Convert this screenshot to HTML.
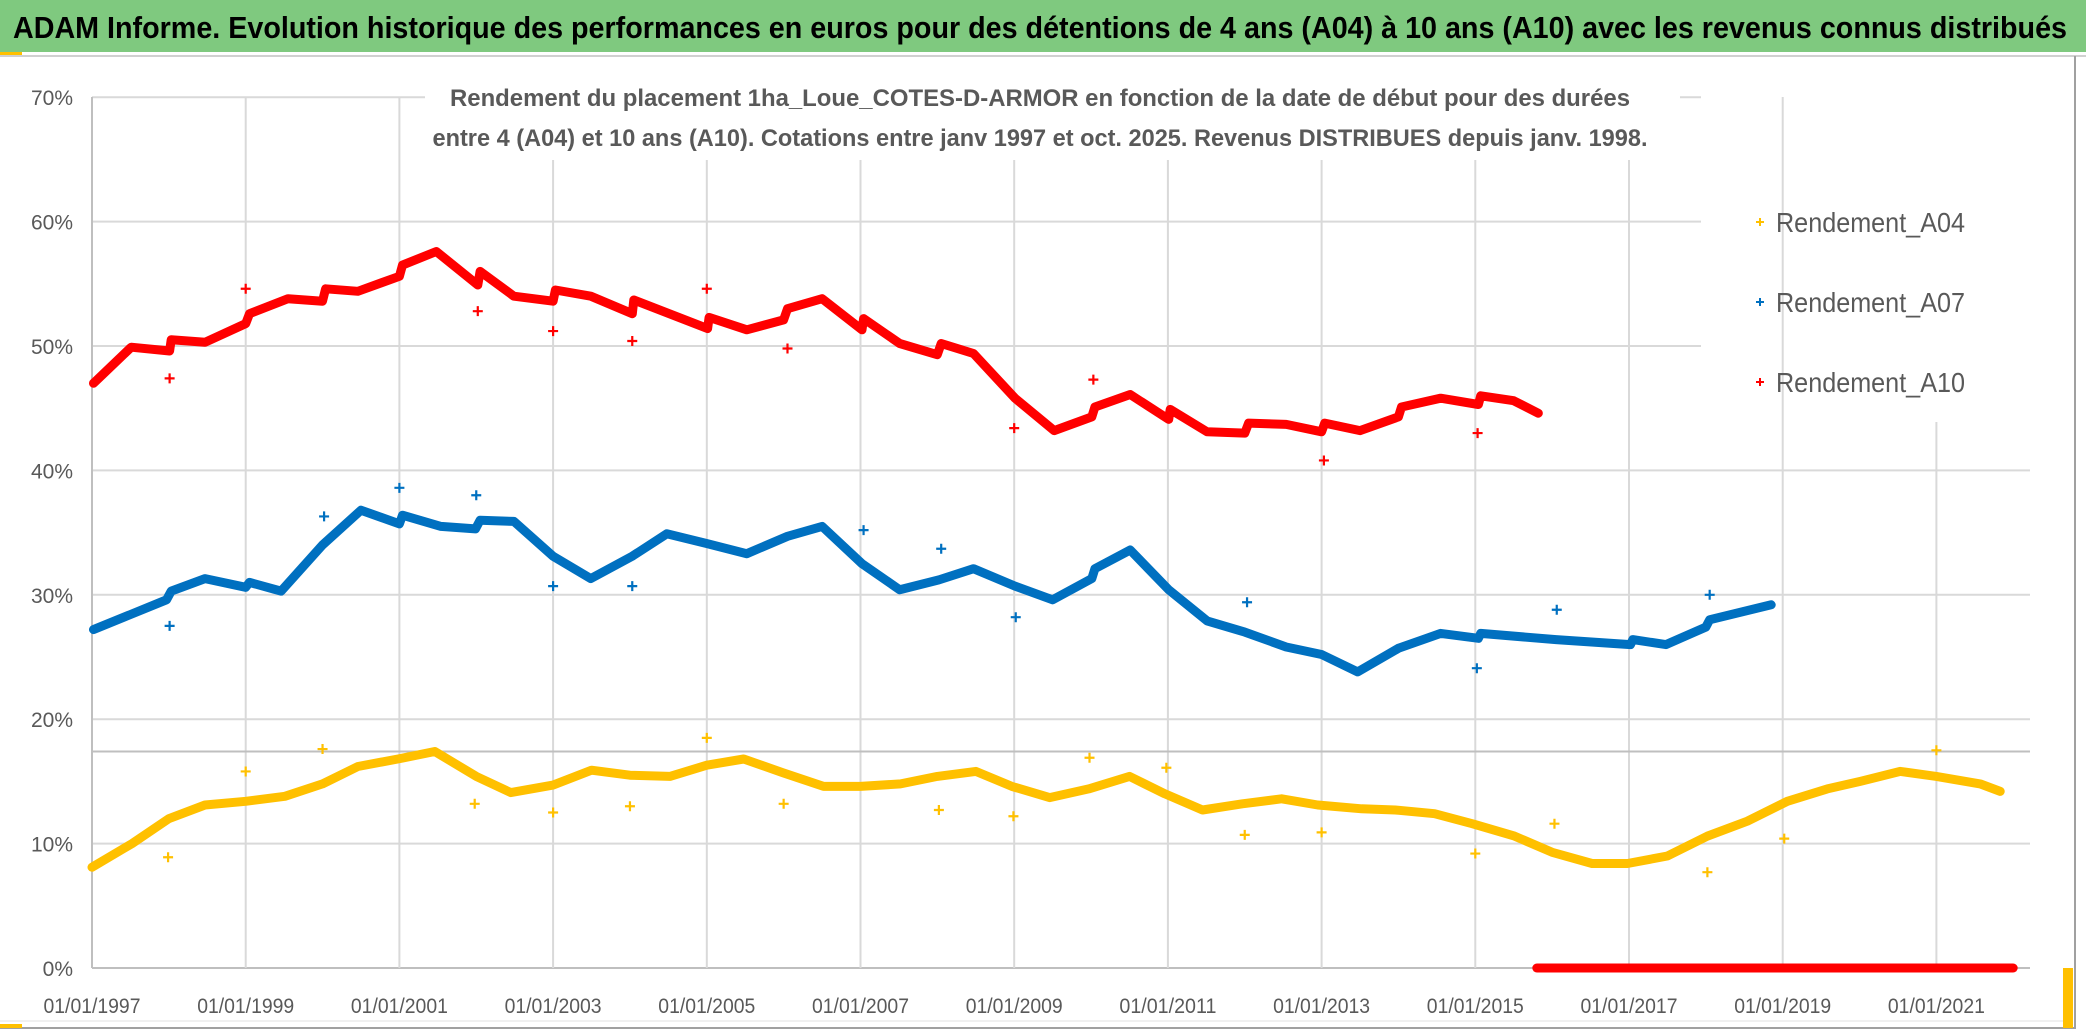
<!DOCTYPE html>
<html><head><meta charset="utf-8"><style>
html,body{margin:0;padding:0;background:#fff;}
svg{display:block;font-family:"Liberation Sans",sans-serif;}
</style></head><body>
<svg id="chart" width="2086" height="1032" viewBox="0 0 2086 1032">
<rect x="0" y="0" width="2086" height="52" fill="#7fc97f"/>
<text x="13" y="38" font-size="31" font-weight="bold" fill="#000" textLength="2054" lengthAdjust="spacingAndGlyphs">ADAM Informe. Evolution historique des performances en euros pour des détentions de 4 ans (A04) à 10 ans (A10) avec les revenus connus distribués</text>
<rect x="0" y="52" width="22" height="3" fill="#ffc000"/>
<line x1="0" y1="56" x2="2086" y2="56" stroke="#d0d0d0" stroke-width="2"/>
<line x1="2075" y1="56" x2="2075" y2="1028" stroke="#a0a0a0" stroke-width="2"/>
<line x1="0" y1="1028" x2="2076" y2="1028" stroke="#a0a0a0" stroke-width="2"/>
<line x1="0" y1="1021" x2="2070" y2="1021" stroke="#e0e0e0" stroke-width="1"/>
<rect x="0" y="1024" width="22" height="4" fill="#ffc000"/>
<rect x="2063" y="968" width="10" height="60" fill="#ffc000"/>
<g id="grid"></g>
<g id="axes"></g>
<rect x="425" y="78" width="1255" height="82" fill="#fff"/>
<text x="1040" y="106" text-anchor="middle" font-size="24" font-weight="bold" fill="#595959" textLength="1180" lengthAdjust="spacingAndGlyphs">Rendement du placement 1ha_Loue_COTES-D-ARMOR en fonction de la date de début pour des durées</text>
<text x="1040" y="146" text-anchor="middle" font-size="24" font-weight="bold" fill="#595959" textLength="1215" lengthAdjust="spacingAndGlyphs">entre 4 (A04) et 10 ans (A10). Cotations entre janv 1997 et oct. 2025. Revenus DISTRIBUES depuis janv. 1998.</text>
<g id="series"></g>
<g id="legend"></g>
</svg>
<script>
// ---- data ----
const xTickYears = [1997,1999,2001,2003,2005,2007,2009,2011,2013,2015,2017,2019,2021];
const xTickLabels = ["01/01/1997","01/01/1999","01/01/2001","01/01/2003","01/01/2005","01/01/2007","01/01/2009","01/01/2011","01/01/2013","01/01/2015","01/01/2017","01/01/2019","01/01/2021"];
const yTicks = [0,10,20,30,40,50,60,70];
const yTickLabels = ["0%","10%","20%","30%","40%","50%","60%","70%"];
const refLine = [17.4];

const a10Years = [1997.02,1997.51,1998.01,1998.03,1998.47,1999.0,1999.05,1999.55,2000.0,2000.04,2000.46,2001.0,2001.04,2001.48,2002.02,2002.05,2002.49,2003.0,2003.03,2003.49,2004.03,2004.05,2005.01,2005.03,2005.52,2006.0,2006.05,2006.5,2007.02,2007.04,2007.51,2008.0,2008.05,2008.47,2009.01,2009.52,2010.01,2010.05,2010.51,2011.01,2011.03,2011.51,2012.0,2012.05,2012.54,2013.0,2013.04,2013.5,2014.0,2014.04,2014.55,2015.04,2015.07,2015.5,2015.82];
const a10Values = [47.0,49.9,49.6,50.5,50.3,51.8,52.6,53.8,53.6,54.6,54.4,55.6,56.5,57.6,54.9,56.0,54.0,53.6,54.5,54.0,52.6,53.7,51.4,52.3,51.3,52.1,53.0,53.8,51.3,52.2,50.2,49.3,50.2,49.4,45.8,43.2,44.3,45.1,46.1,44.1,44.9,43.1,43.0,43.8,43.7,43.1,43.8,43.2,44.3,45.1,45.8,45.3,46.0,45.6,44.6];
const a10OutYears = [1998.01,1999.0,2002.02,2003.0,2004.03,2005.0,2006.05,2009.0,2010.03,2013.03,2015.03];
const a10OutValues = [47.4,54.6,52.8,51.2,50.4,54.6,49.8,43.4,47.3,40.8,43.0];
const a10ZeroYears = [2015.8,2022.0];
const a10ZeroValues = [0,0];

const a07Years = [1997.02,1997.97,1998.03,1998.47,1999.0,1999.05,1999.46,2000.0,2000.5,2001.0,2001.04,2001.54,2001.99,2002.05,2002.49,2003.0,2003.49,2004.03,2004.48,2005.01,2005.52,2006.05,2006.5,2007.02,2007.51,2008.02,2008.47,2009.01,2009.5,2010.01,2010.05,2010.51,2011.01,2011.51,2012.0,2012.54,2013.0,2013.47,2014.0,2014.55,2015.04,2015.07,2016.05,2017.02,2017.05,2017.48,2018.0,2018.05,2018.85];
const a07Values = [27.2,29.6,30.3,31.3,30.6,31.0,30.3,34.0,36.8,35.7,36.4,35.5,35.3,36.0,35.9,33.1,31.3,33.1,34.9,34.1,33.3,34.7,35.5,32.5,30.4,31.2,32.1,30.7,29.6,31.3,32.1,33.6,30.4,27.9,27.0,25.8,25.2,23.8,25.7,26.9,26.5,26.9,26.4,26.0,26.4,26.0,27.4,28.0,29.2];
const a07OutYears = [1998.01,2000.02,2001.0,2002.0,2003.0,2004.03,2007.04,2008.05,2009.02,2012.03,2015.02,2016.06,2018.05];
const a07OutValues = [27.5,36.3,38.6,38.0,30.7,30.7,35.2,33.7,28.2,29.4,24.1,28.8,30.0];

const a04Years = [1997.0,1997.52,1998.0,1998.47,1999.0,1999.51,2000.0,2000.46,2000.98,2001.46,2002.0,2002.45,2003.0,2003.5,2004.0,2004.52,2005.0,2005.48,2005.99,2006.52,2007.0,2007.52,2008.0,2008.5,2008.97,2009.46,2009.97,2010.5,2010.96,2011.45,2011.97,2012.48,2012.95,2013.52,2013.96,2014.47,2014.96,2015.51,2016.0,2016.52,2016.98,2017.5,2018.02,2018.54,2019.06,2019.58,2020.01,2020.53,2021.0,2021.57,2021.83];
const a04Values = [8.1,10.0,12.0,13.1,13.4,13.8,14.8,16.2,16.8,17.4,15.4,14.1,14.7,15.9,15.5,15.4,16.3,16.8,15.7,14.6,14.6,14.8,15.4,15.8,14.6,13.7,14.4,15.4,14.0,12.7,13.2,13.6,13.1,12.8,12.7,12.4,11.6,10.6,9.3,8.4,8.4,9.0,10.6,11.8,13.4,14.4,15.0,15.8,15.4,14.8,14.2];
const a04OutYears = [1997.99,1999.0,2000.0,2001.98,2003.0,2004.0,2005.0,2006.0,2008.02,2008.99,2009.98,2010.98,2012.0,2013.0,2015.0,2016.03,2018.02,2019.02,2021.0];
const a04OutValues = [8.9,15.8,17.6,13.2,12.5,13.0,18.5,13.2,12.7,12.2,16.9,16.1,10.7,10.9,9.2,11.6,7.7,10.4,17.5];

// ---- axes ----
const NS = "http://www.w3.org/2000/svg";
const X0 = 92, XPY = 76.85, Y0 = 968, YPP = 12.44, XR = 2030, YT = 97;
function xs(y){ return X0 + (y - 1997) * XPY; }
function ys(v){ return Y0 - v * YPP; }
function mk(tag, attrs, parent){ const e = document.createElementNS(NS, tag); for (const k in attrs) e.setAttribute(k, attrs[k]); parent.appendChild(e); return e; }
const grid = document.getElementById('grid'), axes = document.getElementById('axes'), series = document.getElementById('series'), legend = document.getElementById('legend');

yTicks.forEach((t, i) => {
  const y = ys(t);
  const xe = (t >= 50 && t <= 70) ? 1701 : XR;
  const ln = mk('line', {x1: X0, y1: y, x2: xe, y2: y, stroke: t === 0 ? '#bfbfbf' : '#d9d9d9', 'stroke-width': 2}, grid);
  
  
  const tx = mk('text', {x: 73, y: y + 8, 'text-anchor': 'end', 'font-size': 21, fill: '#595959'}, axes);
  tx.textContent = yTickLabels[i];
  
  
});
xTickYears.forEach((yr, i) => {
  const x = xs(yr);
  const top = yr >= 2021 ? 422 : YT;
  const ln = mk('line', {x1: x, y1: top, x2: x, y2: Y0, stroke: i === 0 ? '#bfbfbf' : '#d9d9d9', 'stroke-width': 2}, grid);
  
  
  const tx = mk('text', {x: x, y: 1013, 'text-anchor': 'middle', 'font-size': 21, fill: '#595959', textLength: 97, lengthAdjust: 'spacingAndGlyphs'}, axes);
  tx.textContent = xTickLabels[i];
  
  
});
refLine.forEach(v => {
  const ln = mk('line', {x1: X0, y1: ys(v), x2: XR, y2: ys(v), stroke: '#bfbfbf', 'stroke-width': 2}, grid);
  
  
});

function band(years, vals, color, name){
  const pts = years.map((y, i) => xs(y).toFixed(1) + ',' + ys(vals[i]).toFixed(1)).join(' ');
  const p = mk('polyline', {points: pts, fill: 'none', stroke: color, 'stroke-width': 9, 'stroke-linejoin': 'round', 'stroke-linecap': 'round'}, series);
  
  
}
function plus(cx, cy, color, s, w, parent){
  return mk('path', {d: `M${cx - s},${cy}H${cx + s}M${cx},${cy - s}V${cy + s}`, stroke: color, 'stroke-width': w, fill: 'none'}, parent);
}
function outliers(years, vals, color, name){
  years.forEach((y, i) => {
    const p = plus(xs(y), ys(vals[i]), color, 5, 2.2, series);
    
    
  });
}
band(a04Years, a04Values, '#ffc000', 'series-a04-line');
outliers(a04OutYears, a04OutValues, '#ffc000', 'series-a04-point');
band(a07Years, a07Values, '#0070c0', 'series-a07-line');
outliers(a07OutYears, a07OutValues, '#0070c0', 'series-a07-point');
band(a10Years, a10Values, '#ff0000', 'series-a10-line');
outliers(a10OutYears, a10OutValues, '#ff0000', 'series-a10-point');
band(a10ZeroYears, a10ZeroValues, '#ff0000', 'series-a10-zero-line');

const legNames = ["Rendement_A04","Rendement_A07","Rendement_A10"];
const legColors = ['#ffc000','#0070c0','#ff0000'];
const legY = [222,302,382];
legNames.forEach((n, i) => {
  const m = plus(1760, legY[i], legColors[i], 4, 2, legend);
  
  
  const t = mk('text', {x: 1776, y: legY[i] + 10, 'font-size': 28, fill: '#595959', textLength: 189, lengthAdjust: 'spacingAndGlyphs'}, legend);
  t.textContent = n;
  
  
});
</script>
</body></html>
